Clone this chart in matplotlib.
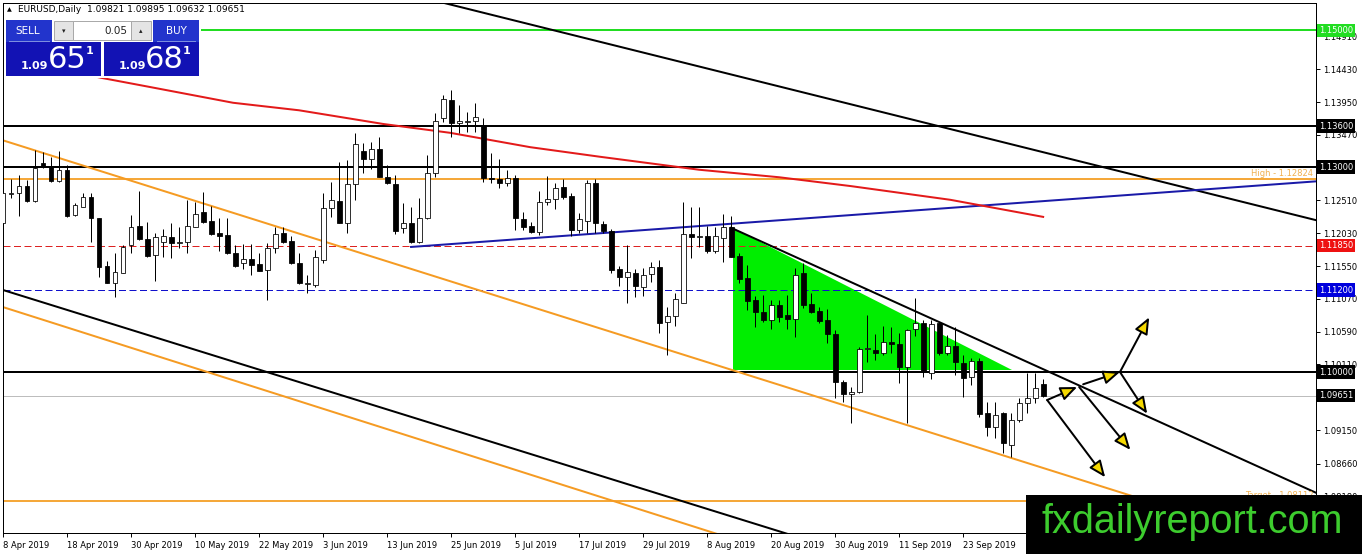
import numpy as np
import matplotlib
matplotlib.use('Agg')
import matplotlib.pyplot as plt
from matplotlib.patches import Rectangle, Polygon
from matplotlib.transforms import blended_transform_factory

plt.rcParams['font.family'] = ['DejaVu Sans']

# daily EURUSD candles, one per trading day starting 8 Apr 2019
opens = [
    1.1218, 1.1260, 1.1262, 1.1272, 1.1250, 1.1306, 1.1301, 1.1279, 1.1296, 1.1230,
    1.1241, 1.1256, 1.1225, 1.1155, 1.1130, 1.1145, 1.1186, 1.1214, 1.1195, 1.1171,
    1.1190, 1.1198, 1.1189, 1.1190, 1.1212, 1.1234, 1.1221, 1.1203, 1.1200, 1.1174,
    1.1159, 1.1165, 1.1158, 1.1149, 1.1181, 1.1203, 1.1192, 1.1159, 1.1129, 1.1127,
    1.1164, 1.1240, 1.1250, 1.1218, 1.1275, 1.1323, 1.1312, 1.1326, 1.1285, 1.1275,
    1.1211, 1.1218, 1.1190, 1.1225, 1.1291, 1.1372, 1.1398, 1.1364, 1.1366, 1.1367,
    1.1361, 1.1284, 1.1282, 1.1277, 1.1284, 1.1224, 1.1214, 1.1205, 1.1249, 1.1253,
    1.1271, 1.1257, 1.1208, 1.1221, 1.1277, 1.1217, 1.1206, 1.1151, 1.1139, 1.1145,
    1.1124, 1.1143, 1.1154, 1.1073, 1.1082, 1.1101, 1.1202, 1.1198, 1.1199, 1.1177,
    1.1196, 1.1212, 1.1170, 1.1138, 1.1105, 1.1088, 1.1076, 1.1098, 1.1083, 1.1078,
    1.1145, 1.1099, 1.1089, 1.1076, 1.1056, 1.0985, 1.0968, 1.0971, 1.1034, 1.1032,
    1.1028, 1.1044, 1.1041, 1.1007, 1.1063, 1.1072, 1.0999, 1.1072, 1.1028, 1.1038,
    1.1013, 1.0993, 1.1016, 1.0940, 1.0920, 1.0940, 1.0893, 1.0930, 1.0955, 1.0962,
    1.09821]
highs = [
    1.1277, 1.1282, 1.1288, 1.1281, 1.1325, 1.1322, 1.1315, 1.1323, 1.1303, 1.1247,
    1.1262, 1.1262, 1.1225, 1.1162, 1.1174, 1.1186, 1.1230, 1.1265, 1.1219, 1.1203,
    1.1209, 1.1218, 1.1212, 1.1252, 1.1249, 1.1263, 1.1243, 1.1225, 1.1225, 1.1186,
    1.1187, 1.1187, 1.1174, 1.1189, 1.1212, 1.1212, 1.1199, 1.1174, 1.1142, 1.1178,
    1.1262, 1.1278, 1.1307, 1.1310, 1.1350, 1.1335, 1.1336, 1.1344, 1.1303, 1.1288,
    1.1247, 1.1241, 1.1255, 1.1317, 1.1379, 1.1405, 1.1413, 1.1391, 1.1380, 1.1394,
    1.1372, 1.1320, 1.1312, 1.1296, 1.1288, 1.1234, 1.1219, 1.1265, 1.1287, 1.1277,
    1.1282, 1.1262, 1.1233, 1.1281, 1.1282, 1.1221, 1.1209, 1.1155, 1.1186, 1.1151,
    1.1152, 1.1161, 1.1164, 1.1095, 1.1116, 1.1249, 1.1241, 1.1241, 1.1214, 1.1212,
    1.1231, 1.1228, 1.1174, 1.1157, 1.1111, 1.1113, 1.1105, 1.1105, 1.1113, 1.1152,
    1.1159, 1.1116, 1.1095, 1.1092, 1.1061, 1.0988, 1.0978, 1.1037, 1.1083, 1.1056,
    1.1067, 1.1066, 1.1057, 1.1063, 1.1108, 1.1076, 1.1076, 1.1073, 1.1054, 1.1066,
    1.1025, 1.1020, 1.1020, 1.0956, 1.0956, 1.0941, 1.0940, 1.0962, 1.0999, 1.0999,
    1.09895]
lows = [
    1.1212, 1.1255, 1.1228, 1.1249, 1.1249, 1.1298, 1.1278, 1.1278, 1.1227, 1.1228,
    1.1241, 1.1190, 1.1139, 1.1130, 1.1110, 1.1145, 1.1174, 1.1193, 1.1168, 1.1133,
    1.1168, 1.1167, 1.1181, 1.1174, 1.1212, 1.1218, 1.1200, 1.1177, 1.1173, 1.1154,
    1.1151, 1.1142, 1.1148, 1.1105, 1.1174, 1.1189, 1.1158, 1.1129, 1.1116, 1.1124,
    1.1159, 1.1227, 1.1218, 1.1203, 1.1252, 1.1291, 1.1297, 1.1285, 1.1275, 1.1202,
    1.1203, 1.1189, 1.1189, 1.1224, 1.1285, 1.1366, 1.1344, 1.1350, 1.1351, 1.1351,
    1.1278, 1.1277, 1.1269, 1.1272, 1.1208, 1.1208, 1.1203, 1.1200, 1.1244, 1.1238,
    1.1253, 1.1199, 1.1203, 1.1203, 1.1203, 1.1203, 1.1145, 1.1126, 1.1101, 1.1110,
    1.1111, 1.1132, 1.1057, 1.1025, 1.1067, 1.1101, 1.1167, 1.1183, 1.1174, 1.1174,
    1.1161, 1.1168, 1.1130, 1.1091, 1.1066, 1.1073, 1.1063, 1.1073, 1.1063, 1.1051,
    1.1094, 1.1086, 1.1072, 1.1042, 1.0962, 1.0956, 1.0925, 1.0969, 1.1015, 1.1018,
    1.1025, 1.1028, 1.0984, 1.0925, 1.1053, 1.0993, 1.0990, 1.1025, 1.1025, 1.0996,
    1.0963, 1.0981, 1.0934, 1.0906, 1.0903, 1.0881, 1.0876, 1.0927, 1.0940, 1.0955,
    1.09632]
closes = [
    1.1262, 1.1262, 1.1272, 1.1250, 1.1298, 1.1301, 1.1279, 1.1296, 1.1228, 1.1244,
    1.1256, 1.1225, 1.1154, 1.1130, 1.1146, 1.1183, 1.1212, 1.1195, 1.1170, 1.1198,
    1.1199, 1.1189, 1.1190, 1.1214, 1.1231, 1.1219, 1.1202, 1.1199, 1.1174, 1.1155,
    1.1165, 1.1157, 1.1148, 1.1181, 1.1202, 1.1190, 1.1159, 1.1130, 1.1130, 1.1168,
    1.1240, 1.1252, 1.1218, 1.1275, 1.1334, 1.1312, 1.1326, 1.1285, 1.1277, 1.1206,
    1.1218, 1.1190, 1.1225, 1.1291, 1.1367, 1.1399, 1.1364, 1.1367, 1.1367, 1.1373,
    1.1284, 1.1283, 1.1277, 1.1284, 1.1225, 1.1212, 1.1205, 1.1249, 1.1253, 1.1269,
    1.1256, 1.1208, 1.1224, 1.1277, 1.1218, 1.1206, 1.1149, 1.1139, 1.1146, 1.1126,
    1.1142, 1.1154, 1.1072, 1.1082, 1.1107, 1.1202, 1.1198, 1.1198, 1.1177, 1.1199,
    1.1212, 1.1168, 1.1136, 1.1104, 1.1088, 1.1076, 1.1098, 1.1080, 1.1078, 1.1142,
    1.1098, 1.1088, 1.1075, 1.1056, 1.0985, 1.0968, 1.0971, 1.1034, 1.1034, 1.1028,
    1.1044, 1.1041, 1.1007, 1.1061, 1.1072, 1.1001, 1.1070, 1.1028, 1.1038, 1.1015,
    1.0991, 1.1016, 1.0939, 1.0920, 1.0937, 1.0896, 1.0930, 1.0955, 1.0962, 1.0977,
    1.09651]

date_labels = ['8 Apr 2019', '18 Apr 2019', '30 Apr 2019', '10 May 2019', '22 May 2019',
               '3 Jun 2019', '13 Jun 2019', '25 Jun 2019', '5 Jul 2019', '17 Jul 2019',
               '29 Jul 2019', '8 Aug 2019', '20 Aug 2019', '30 Aug 2019', '11 Sep 2019',
               '23 Sep 2019']
price_ticks = [1.14910, 1.14430, 1.13950, 1.13470, 1.12510, 1.12030, 1.11550, 1.11070,
               1.10590, 1.10110, 1.09150, 1.08660, 1.08180]

# moving average (read at a few bars)
ma_bars = [0, 12.5, 18.4, 28.75, 37, 47.5, 55.9, 65.9, 74.6, 87, 97, 106, 118.4, 130]
ma_vals = [1.1460, 1.1430, 1.1417, 1.1394, 1.1383, 1.1363, 1.1350, 1.1329, 1.1315,
           1.1296, 1.1285, 1.1272, 1.1252, 1.1227]

# horizontal levels
level_green = 1.15000
levels_black = [1.13600, 1.13000, 1.10000]
level_high = 1.12824
level_low = 1.08112
level_red = 1.11850
level_blue = 1.11200
last_price = 1.09651

# trend lines: (bar, price) pairs
chan_orange_up = ([0, 170], [1.1339, 1.0712])
chan_orange_lo = ([0, 100], [1.1095, 1.0723])
chan_black_lo = ([0, 100], [1.1120, 1.0756])
black_top = ([50, 170], [1.1555, 1.1205])
blue_trend = ([51, 170], [1.1183, 1.1284])
black_down = ([91, 170], [1.1211, 1.0792])
triangle = [(91.25, 1.1211), (91.25, 1.1003), (126.1, 1.1003)]

# scenario arrows: start bar, start price, end bar, end price
arrows = [(130.5, 1.0959, 137.75, 1.0846),
          (130.5, 1.0959, 134.25, 1.0978),
          (134.5, 1.0978, 140.9, 1.0886),
          (135.0, 1.0982, 139.6, 1.1000),
          (139.6, 1.1000, 143.25, 1.1080),
          (139.6, 1.1000, 143.0, 1.0939)]

W, H = 1362, 554
fig = plt.figure(figsize=(W / 100, H / 100), dpi=100)
fig.patch.set_facecolor('white')
ax = fig.add_axes([3 / W, (H - 533) / H, (1316 - 3) / W, (533 - 3) / H])
ax.set_xlim(0, 164.1)
ax.set_ylim(1.07644, 1.15400)

px = 0.72
ax.axhline(level_green, color='#22dd22', lw=2 * px, zorder=2)
for lv in levels_black:
    ax.axhline(lv, color='black', lw=2 * px, zorder=2)
ax.axhline(level_high, color='#f5a83a', lw=2 * px, zorder=2)
ax.axhline(level_low, color='#f5a83a', lw=2 * px, zorder=2)
ax.axhline(level_red, color='#dd2222', lw=1 * px, dashes=(7, 3.5), zorder=2)
ax.axhline(level_blue, color='#1010cc', lw=1 * px, dashes=(7, 3.5), zorder=2)
ax.axhline(last_price, color='#bdbdbd', lw=1 * px, zorder=2)

ax.add_patch(Polygon(triangle, closed=True, facecolor='#00ee00', edgecolor='none', zorder=1.5))

for xs, ys in [chan_orange_up, chan_orange_lo]:
    ax.plot(xs, ys, color='#f59b23', lw=2 * px, zorder=2.2)
for xs, ys in [chan_black_lo, black_top, black_down]:
    ax.plot(xs, ys, color='black', lw=2 * px, zorder=2.2)
ax.plot(*blue_trend, color='#1a1aa8', lw=2 * px, zorder=2.2)
ax.plot(ma_bars, ma_vals, color='#e31a1a', lw=2 * px, zorder=2.2)

# candles
o = np.array(opens); h = np.array(highs); l = np.array(lows); c = np.array(closes)
idx = np.arange(len(o))
ax.vlines(idx, l, h, color='black', lw=1 * px, zorder=3)
up = c >= o
body_h = np.maximum(np.abs(c - o), 0.00004)
ax.bar(idx, body_h, bottom=np.minimum(o, c), width=0.62,
       color=np.where(up, 'white', 'black'), edgecolor='black', linewidth=0.8 * px, zorder=3.1)

for x0, y0, x1, y1 in arrows:
    ax.annotate('', xy=(x1, y1), xytext=(x0, y0),
                arrowprops=dict(arrowstyle='-|>,head_length=1.0,head_width=0.42',
                                facecolor='#f5d800', edgecolor='black', lw=2 * px,
                                shrinkA=0, shrinkB=0), zorder=4)

# axes styling
for s in ax.spines.values():
    s.set_linewidth(1 * px)
ax.yaxis.tick_right()
ax.set_yticks(price_ticks)
ax.set_yticklabels(['%.5f' % v for v in price_ticks])
ax.set_xticks(np.arange(len(date_labels)) * 8)
ax.set_xticklabels(date_labels, ha='left')
ax.tick_params(axis='both', labelsize=6, length=3, width=0.7, direction='out', pad=2)
ax.tick_params(axis='x', pad=3)

ytr = blended_transform_factory(ax.transAxes, ax.transData)
tag_levels = [(level_green, '#22dd22'), (1.13600, 'black'), (1.13000, 'black'),
              (level_red, '#ee1111'), (level_blue, '#0000dd'), (1.10000, 'black'),
              (last_price, 'black')]
for lv, col in tag_levels:
    ax.text(1.0023, lv, '%.5f' % lv, transform=ytr, ha='left', va='center', fontsize=6,
            color='white', clip_on=False, zorder=6,
            bbox=dict(boxstyle='square,pad=0.25', fc=col, ec='none'))
ax.text(0.998, level_high + 0.0002, 'High - %.5f' % level_high, transform=ytr,
        ha='right', va='bottom', fontsize=6, color='#f0b050', zorder=5)
ax.text(0.998, level_low + 0.0002, 'Target - %.5f' % level_low, transform=ytr,
        ha='right', va='bottom', fontsize=6, color='#f0b050', zorder=5)

# overlay in pixel coordinates: header, trade panel, watermark
ov = fig.add_axes([0, 0, 1, 1], zorder=10)
ov.set_xlim(0, W)
ov.set_ylim(H, 0)
ov.axis('off')
ov.patch.set_alpha(0)

ov.text(7, 10, '\u25b2', fontsize=4.5, va='center', ha='left')
ov.text(18, 10, 'EURUSD,Daily  1.09821 1.09895 1.09632 1.09651', fontsize=6.5,
        va='center', ha='left')

ov.add_patch(Rectangle((4, 18), 197, 60, fc='white', ec='none'))
ov.add_patch(Rectangle((6, 20), 46, 22, fc='#2234cc', ec='none'))
ov.add_patch(Rectangle((153, 20), 46, 22, fc='#2234cc', ec='none'))
ov.add_patch(Rectangle((6, 42), 95, 34, fc='#1212b4', ec='none'))
ov.add_patch(Rectangle((104, 42), 95, 34, fc='#1212b4', ec='none'))
ov.plot([9, 49], [41, 41], color='#8090e0', lw=0.7)
ov.plot([157, 195], [41, 41], color='#8090e0', lw=0.7)
ov.add_patch(Rectangle((54, 21), 19, 19, fc='#e4e4e4', ec='#a8a8a8', lw=0.7))
ov.add_patch(Rectangle((73, 21), 58, 19, fc='white', ec='#a8a8a8', lw=0.7))
ov.add_patch(Rectangle((131, 21), 20, 19, fc='#e4e4e4', ec='#a8a8a8', lw=0.7))
ov.text(63.5, 31, '\u25be', fontsize=5, ha='center', va='center', color='#222222')
ov.text(141, 31, '\u25b4', fontsize=5, ha='center', va='center', color='#222222')
ov.text(127, 31, '0.05', fontsize=7.5, ha='right', va='center', color='#222222')
ov.text(28, 31, 'SELL', fontsize=7.5, ha='center', va='center', color='white')
ov.text(176, 31, 'BUY', fontsize=7.5, ha='center', va='center', color='white')
for x_small, x_big, x_sup, big in [(21, 48, 86, '65'), (119, 145, 183, '68')]:
    ov.text(x_small, 66, '1.09', fontsize=8, ha='left', va='center', color='white', weight='bold')
    ov.text(x_big, 60, big, fontsize=22, ha='left', va='center', color='white')
    ov.text(x_sup, 51, '1', fontsize=8, ha='left', va='center', color='white', weight='bold')

ov.add_patch(Rectangle((1026, 495), W - 1026, H - 495, fc='black', ec='none'))
ov.text(1042, 533, 'fxdailyreport.com', fontsize=28.5, family='Liberation Sans',
        color='#3dcc2e', ha='left', va='baseline')

fig.savefig('out.png', dpi=100)
